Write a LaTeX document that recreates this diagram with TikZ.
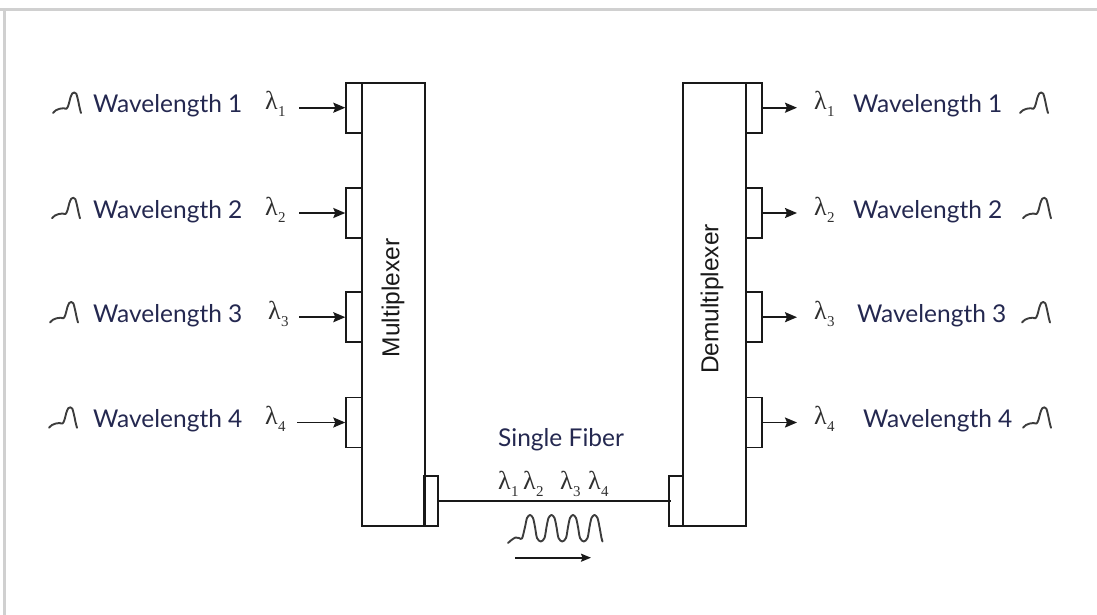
\documentclass[tikz,border=0pt]{standalone}
\usepackage{fontspec}
\setmainfont{Lato}
\setsansfont{Liberation Sans}
\newfontfamily\lamfont{Liberation Serif}
\usetikzlibrary{arrows.meta,calc}
\definecolor{txt}{RGB}{36,40,80}
\definecolor{ink}{RGB}{25,25,25}
\definecolor{framegray}{RGB}{208,208,208}
\newcommand{\lam}[1]{{\lamfont\fontsize{26}{26}\selectfont λ\kern0.3pt\raisebox{-7pt}{\fontsize{15}{15}\selectfont #1}}}
\tikzset{
  mainbox/.style={draw=ink,line width=1.8pt,minimum width=63pt,minimum height=443pt,inner sep=0pt},
  tab/.style={draw=ink,line width=1.8pt,minimum width=16pt,minimum height=50pt,inner sep=0pt},
  ftab/.style={tab,minimum width=14pt},
  sig/.style={-{Stealth[length=12pt,width=10pt,inset=2pt]},line width=1.8pt,draw=ink},
  pulseline/.style={line width=1.9pt,draw=ink!85,line join=round,line cap=round},
  wl/.style={font=\fontsize{24.5}{24.5}\selectfont,text=txt,inner sep=0pt,anchor=base west},
  lamlabel/.style={text=ink!90,inner sep=0pt,anchor=base west},
  boxlabel/.style={font=\sffamily\fontsize{24.5}{24.5}\selectfont,text=ink,rotate=90,inner sep=0pt},
  pulse/.pic={\draw[pulseline] plot[smooth,tension=0.55] coordinates {(0,0)(3,-2.8)(6.5,-4.2)(10.5,-4.8)(13.5,-4.3)(15.5,-8)(17.3,-15)(19.2,-19.5)(21.3,-20.5)(23.3,-19.2)(25,-13)(26.8,-4.5)(28,0)};}
}
\begin{document}
\begin{tikzpicture}[x=1pt,y=-1pt]
\useasboundingbox (0,0) rectangle (1097,615);
% frame
\fill[framegray] (0,8) rectangle (1097,11.5);
\fill[framegray] (3,8) rectangle (5.5,615);

% multiplexer
\node[mainbox] (mux) at (393.3,304.2) {};
\node[boxlabel] (muxl) at (393,298) {Multiplexer};
\node[tab] (mt1) at (354.2,107.7) {};
\node[tab] (mt2) at (354.2,213) {};
\node[tab] (mt3) at (354.2,317.2) {};
\node[tab] (mt4) at (354.2,422.5) {};
\node[ftab] (mout) at (431.3,500.7) {};

% demultiplexer
\node[mainbox] (dmx) at (714.2,304.2) {};
\node[boxlabel] (dmxl) at (712,299) {Demultiplexer};
\node[tab] (dt1) at (753.7,107.7) {};
\node[tab] (dt2) at (753.7,213) {};
\node[tab] (dt3) at (753.7,317.2) {};
\node[tab] (dt4) at (753.7,422.5) {};
\node[ftab] (din) at (675.7,500.7) {};

% fiber
\coordinate (fend) at ($(din.west)+(3,0)$);
\draw[line width=1.8pt,draw=ink] (mout.east) -- (fend);

% input arrows
\coordinate (ain1) at (299,107.7);
\coordinate (ain2) at (299,213);
\coordinate (ain3) at (299,317.2);
\coordinate (ain4) at (297,422.5);
\draw[sig] (ain1) -- (mt1.west);
\draw[sig] (ain2) -- (mt2.west);
\draw[sig] (ain3) -- (mt3.west);
\draw[sig] (ain4) -- (mt4.west);

% output arrows
\coordinate (aout1) at (797,107.7);
\coordinate (aout2) at (797,213);
\coordinate (aout3) at (797,317.2);
\coordinate (aout4) at (797,422.5);
\draw[sig] (dt1.east) -- (aout1);
\draw[sig] (dt2.east) -- (aout2);
\draw[sig] (dt3.east) -- (aout3);
\draw[sig] (dt4.east) -- (aout4);

% left labels
\node[wl] (wl1) at (93,112.7) {Wavelength 1};
\node[wl] (wl2) at (93,218) {Wavelength 2};
\node[wl] (wl3) at (93,322.2) {Wavelength 3};
\node[wl] (wl4) at (93,427.5) {Wavelength 4};
\node[lamlabel] (ll1) at (265,110) {\lam{1}};
\node[lamlabel] (ll2) at (265,215.3) {\lam{2}};
\node[lamlabel] (ll3) at (268,319.5) {\lam{3}};
\node[lamlabel] (ll4) at (265,424.8) {\lam{4}};
\pic at (53,113) {pulse};
\pic at (52,218.3) {pulse};
\pic at (50,322.5) {pulse};
\pic at (49,427.8) {pulse};

% right labels
\node[lamlabel] (rl1) at (814,110) {\lam{1}};
\node[lamlabel] (rl2) at (814,215.3) {\lam{2}};
\node[lamlabel] (rl3) at (814,319.5) {\lam{3}};
\node[lamlabel] (rl4) at (814,424.8) {\lam{4}};
\node[wl] (wr1) at (853,112.7) {Wavelength 1};
\node[wl] (wr2) at (853,218) {Wavelength 2};
\node[wl] (wr3) at (857,322.2) {Wavelength 3};
\node[wl] (wr4) at (863,427.5) {Wavelength 4};
\pic at (1020,113) {pulse};
\pic at (1023,218.3) {pulse};
\pic at (1022,322.5) {pulse};
\pic at (1023,427.8) {pulse};

% fiber labels
\node[wl] (sf) at (498,446.7) {Single Fiber};
\node[lamlabel] (f1) at (498,489) {\lam{1}};
\node[lamlabel] (f2) at (523,489) {\lam{2}};
\node[lamlabel] (f3) at (560,489) {\lam{3}};
\node[lamlabel] (f4) at (588,489) {\lam{4}};

% pulse train
\draw[pulseline] plot[smooth,tension=0.5] coordinates {
 (508,543)(511.5,540)(515.5,537.5)(519,538)(522,538.5)
 (525,527)(527,518)(530,515)(533,518)(535,527)(537,538)(540.75,541.5)
 (544.5,538)(546.5,527)(548.5,518)(551.5,515)(554.5,518)(556.5,527)(558.5,538)(562.25,541.5)
 (566,538)(568,527)(570,518)(573,515)(576,518)(578,527)(580,538)(583.75,541.5)
 (587.5,538)(589.5,527)(591.5,518)(594.5,515)(597.5,518)(599.5,527)(601.5,538)(602.5,541.5)};
\coordinate (dirs) at (515,557.7);
\coordinate (dire) at (591,557.7);
\draw[-{Stealth[length=10pt,width=8pt,inset=1.5pt]},line width=1.6pt,draw=ink] (dirs) -- (dire);
\end{tikzpicture}
\end{document}
